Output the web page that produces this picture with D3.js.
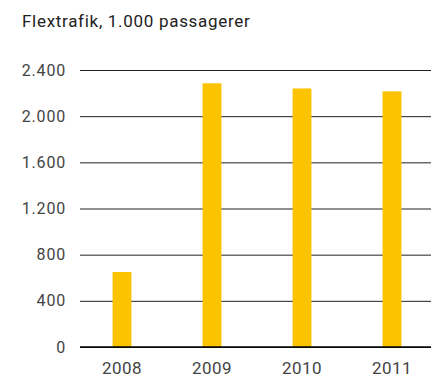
<!DOCTYPE html>
<html>
<head>
<meta charset="utf-8">
<script src="https://cdn.jsdelivr.net/npm/d3@7"></script>
<style>
  body { margin: 0; background: #fff; }
  svg text { font-family: Roboto, "Liberation Sans", sans-serif; }
</style>
</head>
<body>
<div id="chart"></div>
<script>
// data
const years = ["2008", "2009", "2010", "2011"];
const passengers = [650, 2285, 2240, 2215]; // 1.000 passagerer
const yTicks = [0, 400, 800, 1200, 1600, 2000, 2400];

let width = 431, height = 377,
    margin = ({ top: 70, right: 0, bottom: 30, left: 80 });

const svg = d3.select("#chart")
  .append("svg")
  .attr("width", width)
  .attr("height", height);

let x = d3.scaleBand()
  .domain(years)
  .range([77, 437])
  .paddingInner(0.79)
  .paddingOuter(0.395);

let y = d3.scaleLinear()
  .domain([0, 2400])
  .range([347, 70]);

// gridlines + y labels
const yAxis = svg.append("g")
  .attr("transform", `translate(${margin.left},0)`)
  .call(d3.axisLeft(y).tickValues(yTicks)
    .tickFormat(d => d3.format(",")(d).replace(/,/g, "."))
    .tickSize(-(width - margin.left)).tickPadding(14));
yAxis.select(".domain").remove();
yAxis.selectAll(".tick line").attr("stroke", "#222").attr("stroke-width", 1);
yAxis.selectAll(".tick text")
  .attr("fill", "#444")
  .attr("font-size", 16)
  .attr("letter-spacing", 0.8);

// bars
svg.append("g")
  .attr("fill", "#fcc400")
  .selectAll("rect")
  .data(passengers)
  .join("rect")
  .attr("x", (d, i) => x(years[i]))
  .attr("y", d => y(d))
  .attr("width", x.bandwidth())
  .attr("height", d => y(0) - y(d));

// x labels
const xAxis = svg.append("g")
  .attr("transform", `translate(0,${y(0)})`)
  .call(d3.axisBottom(x).tickSize(0).tickPadding(15));
xAxis.select(".domain").remove();
xAxis.selectAll(".tick text")
  .attr("fill", "#444")
  .attr("font-size", 17)
  .attr("letter-spacing", 0.5);

// zero line on top
svg.append("line")
  .attr("x1", margin.left).attr("x2", width)
  .attr("y1", y(0)).attr("y2", y(0))
  .attr("stroke", "#000").attr("stroke-width", 1.5);

svg.append("text")
  .attr("x", 22).attr("y", 26.5)
  .attr("font-size", 17)
  .attr("letter-spacing", 0.7)
  .attr("fill", "#222")
  .text("Flextrafik, 1.000 passagerer");
</script>
</body>
</html>
